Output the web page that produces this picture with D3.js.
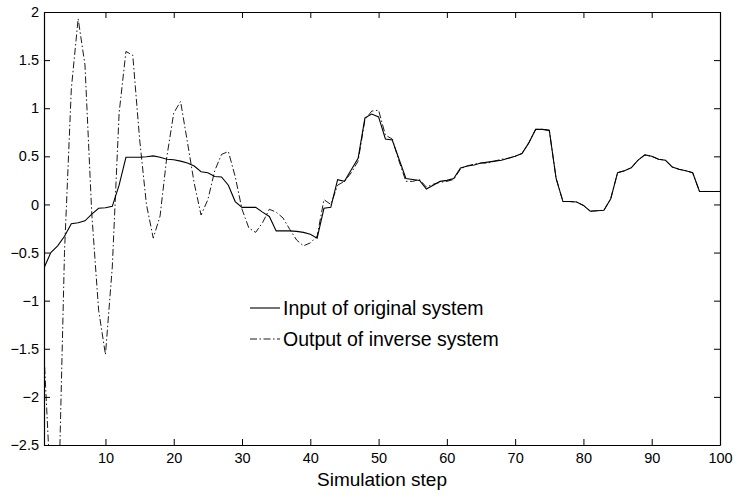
<!DOCTYPE html>
<html>
<head>
<meta charset="utf-8">
<script src="https://cdn.jsdelivr.net/npm/d3@7/dist/d3.min.js"></script>
<style>
  html, body { margin: 0; padding: 0; background: #fff; }
  svg { display: block; font-family: "Liberation Sans", Arial, Helvetica, sans-serif; }
</style>
</head>
<body>
<svg id="chart" width="733" height="501"></svg>
<script>
// ---- data ----
const inputOriginal = [
  -0.66, -0.50, -0.43, -0.33, -0.20, -0.19, -0.17, -0.10, -0.04, -0.035,
  -0.02, 0.20, 0.49, 0.49, 0.49, 0.495, 0.505, 0.49, 0.47, 0.465,
  0.45, 0.43, 0.40, 0.34, 0.33, 0.29, 0.285, 0.20, 0.03, -0.03,
  -0.03, -0.03, -0.08, -0.125, -0.275, -0.275, -0.275, -0.28, -0.29, -0.31,
  -0.35, -0.04, -0.03, 0.257, 0.24, 0.36, 0.48, 0.90, 0.94, 0.91,
  0.68, 0.67, 0.47, 0.27, 0.26, 0.25, 0.16, 0.20, 0.24, 0.25,
  0.27, 0.38, 0.40, 0.41, 0.43, 0.44, 0.45, 0.46, 0.48, 0.50,
  0.53, 0.64, 0.78, 0.78, 0.77, 0.27, 0.03, 0.03, 0.025, -0.01,
  -0.07, -0.065, -0.06, 0.06, 0.33, 0.35, 0.38, 0.46, 0.515, 0.50,
  0.47, 0.46, 0.39, 0.365, 0.35, 0.33, 0.135, 0.135, 0.135, 0.135
];
const outputInverse = [
  -1.55, -3.0, -3.5, -0.5, 1.2, 1.93, 1.45, -0.1, -1.1, -1.56,
  -0.65, 0.95, 1.59, 1.55, 0.68, 0.0, -0.35, -0.12, 0.5, 0.95,
  1.07, 0.65, 0.22, -0.11, 0.05, 0.35, 0.52, 0.55, 0.29, -0.05,
  -0.245, -0.29, -0.19, -0.05, -0.08, -0.14, -0.26, -0.37, -0.43, -0.40,
  -0.33, 0.05, 0.0, 0.2, 0.24, 0.33, 0.45, 0.88, 0.97, 0.98,
  0.72, 0.68, 0.45, 0.24, 0.24, 0.26, 0.18, 0.21, 0.23, 0.24,
  0.26, 0.37, 0.40, 0.42, 0.43, 0.43, 0.45, 0.47, 0.48, 0.50,
  0.53, 0.64, 0.78, 0.78, 0.77, 0.27, 0.03, 0.03, 0.025, -0.01,
  -0.07, -0.065, -0.06, 0.06, 0.33, 0.35, 0.38, 0.46, 0.515, 0.50,
  0.47, 0.46, 0.39, 0.365, 0.35, 0.33, 0.135, 0.135, 0.135, 0.135
];
const xTicks = [10, 20, 30, 40, 50, 60, 70, 80, 90, 100];
const yTicks = [-2.5, -2, -1.5, -1, -0.5, 0, 0.5, 1, 1.5, 2];
const yTickLabels = ["\u22122.5", "\u22122", "\u22121.5", "\u22121", "\u22120.5", "0", "0.5", "1", "1.5", "2"];
const seriesNames = ["Input of original system", "Output of inverse system"];
const xLabel = "Simulation step";

// ---- layout ----
const L = 44, R = 720, T = 12, B = 445;
const svg = d3.select("#chart");
const x = d3.scaleLinear().domain([1, 100]).range([L, R]);
const y = d3.scaleLinear().domain([-2.5, 2]).range([B, T]);

svg.append("defs").append("clipPath").attr("id", "clip")
  .append("rect").attr("x", L).attr("y", T).attr("width", R - L).attr("height", B - T);

const line = d3.line().x((d, i) => x(i + 1)).y(d => y(d));

const plot = svg.append("g").attr("clip-path", "url(#clip)");
plot.append("path").datum(outputInverse)
  .attr("d", line).attr("fill", "none").attr("stroke", "#000")
  .attr("stroke-width", 0.9).attr("stroke-dasharray", "7,2.5,1.5,2.5");
plot.append("path").datum(inputOriginal)
  .attr("d", line).attr("fill", "none").attr("stroke", "#000")
  .attr("stroke-width", 1.1);

// ---- axes ----
const fmtY = v => yTickLabels[yTicks.indexOf(v)];
const gB = svg.append("g").attr("transform", `translate(0,${B})`)
  .call(d3.axisBottom(x).tickValues(xTicks).tickSizeInner(-6).tickSizeOuter(0).tickPadding(8));
const gL = svg.append("g").attr("transform", `translate(${L},0)`)
  .call(d3.axisLeft(y).tickValues(yTicks).tickFormat(fmtY).tickSizeInner(-6).tickSizeOuter(0).tickPadding(5));
const gT = svg.append("g").attr("transform", `translate(0,${T})`)
  .call(d3.axisTop(x).tickValues(xTicks).tickFormat("").tickSizeInner(-6).tickSizeOuter(0));
const gR = svg.append("g").attr("transform", `translate(${R},0)`)
  .call(d3.axisRight(y).tickValues(yTicks).tickFormat("").tickSizeInner(-6).tickSizeOuter(0));

[gB, gL, gT, gR].forEach(g => {
  g.selectAll("path.domain").attr("stroke", "#000").attr("stroke-width", 1.2);
  g.selectAll(".tick line").attr("stroke", "#000").attr("stroke-width", 1);
  g.selectAll(".tick text").attr("fill", "#000").style("font-size", "14.5px")
    .style("font-family", "'Liberation Sans', Arial, Helvetica, sans-serif");
});

// x label
svg.append("text").attr("x", (L + R) / 2).attr("y", 486)
  .attr("text-anchor", "middle").style("font-size", "19px").attr("fill", "#000")
  .text(xLabel);

// ---- legend ----
const legend = svg.append("g");
const rows = [
  { name: seriesNames[0], dash: null, w: 1.1, cy: 308 },
  { name: seriesNames[1], dash: "7,2.5,1.5,2.5", w: 0.9, cy: 339 }
];
rows.forEach(r => {
  legend.append("line").attr("x1", 250).attr("x2", 280).attr("y1", r.cy).attr("y2", r.cy)
    .attr("stroke", "#000").attr("stroke-width", r.w)
    .attr("stroke-dasharray", r.dash);
  legend.append("text").attr("x", 283).attr("y", r.cy + 7)
    .style("font-size", "19.5px").attr("fill", "#000").text(r.name);
});
</script>
</body>
</html>
